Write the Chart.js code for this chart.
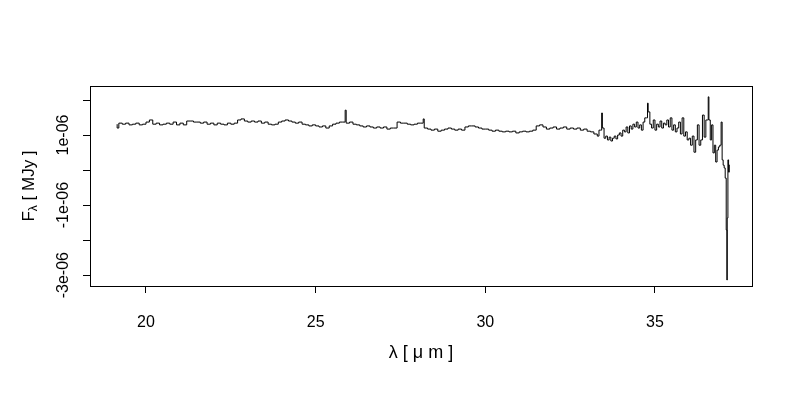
<!DOCTYPE html>
<html>
<head>
<meta charset="utf-8">
<script src="https://cdn.jsdelivr.net/npm/chart.js@4"></script>
<style>
  body { margin: 0; background: #fff; }
  #wrap { width: 800px; height: 400px; }
</style>
</head>
<body>
<div id="wrap"><canvas id="specChart" width="800" height="400"></canvas></div>
<script>
// wavelength in micron
const wavelength = [
  19.15, 19.2, 19.3, 19.4, 19.5, 19.6, 19.7, 19.8, 19.9, 20.0,
  20.1, 20.2, 20.3, 20.4, 20.5, 20.6, 20.7, 20.8, 20.9, 21.0,
  21.1, 21.2, 21.3, 21.4, 21.5, 21.6, 21.7, 21.8, 21.9, 22.0,
  22.1, 22.2, 22.3, 22.4, 22.5, 22.6, 22.7, 22.8, 22.9, 23.0,
  23.1, 23.2, 23.3, 23.4, 23.5, 23.6, 23.7, 23.8, 23.9, 24.0,
  24.1, 24.2, 24.3, 24.4, 24.5, 24.6, 24.7, 24.8, 24.9, 25.0,
  25.1, 25.2, 25.3, 25.4, 25.5, 25.6, 25.7, 25.8, 25.87, 25.9, 26.0,
  26.1, 26.2, 26.3, 26.4, 26.5, 26.6, 26.7, 26.8, 26.9, 27.0,
  27.1, 27.2, 27.3, 27.4, 27.5, 27.6, 27.7, 27.8, 27.9, 28.0,
  28.1, 28.17, 28.2, 28.3, 28.4, 28.5, 28.6, 28.7, 28.8, 28.9, 29.0,
  29.1, 29.2, 29.3, 29.4, 29.5, 29.6, 29.7, 29.8, 29.9, 30.0,
  30.1, 30.2, 30.3, 30.4, 30.5, 30.6, 30.7, 30.8, 30.9, 31.0,
  31.1, 31.2, 31.3, 31.4, 31.5, 31.6, 31.7, 31.8, 31.9, 32.0,
  32.1, 32.2, 32.3, 32.4, 32.5, 32.6, 32.7, 32.8, 32.9, 33.0,
  33.1, 33.2, 33.3, 33.35, 33.4, 33.43, 33.45, 33.5, 33.55, 33.6, 33.65,
  33.7, 33.75, 33.8, 33.85, 33.9, 33.95, 34.0, 34.05, 34.1, 34.15,
  34.2, 34.25, 34.3, 34.35, 34.4, 34.45, 34.5, 34.55, 34.6, 34.65,
  34.7, 34.75, 34.78, 34.8, 34.85, 34.9, 34.95, 35.0, 35.05, 35.1, 35.15,
  35.2, 35.25, 35.3, 35.35, 35.4, 35.45, 35.5, 35.55, 35.6, 35.65,
  35.7, 35.75, 35.8, 35.85, 35.9, 35.95, 36.0, 36.05, 36.1, 36.15,
  36.2, 36.25, 36.3, 36.35, 36.4, 36.45, 36.5, 36.55, 36.57, 36.59, 36.63,
  36.67, 36.71, 36.75, 36.79, 36.83, 36.87, 36.91, 36.95, 36.98, 37.01,
  37.04, 37.07, 37.1, 37.12, 37.13, 37.15, 37.17, 37.19, 37.21
];

// flux in units of 1e-06 MJy
const fluxMicro = [
  1.31, 1.20, 1.34, 1.31, 1.34, 1.29, 1.31, 1.34, 1.29, 1.31,
  1.37, 1.43, 1.31, 1.34, 1.29, 1.31, 1.34, 1.31, 1.37, 1.29,
  1.34, 1.29, 1.40, 1.40, 1.37, 1.37, 1.34, 1.37, 1.31, 1.34,
  1.29, 1.34, 1.31, 1.29, 1.34, 1.31, 1.34, 1.43, 1.46, 1.40,
  1.37, 1.40, 1.37, 1.40, 1.34, 1.37, 1.31, 1.29, 1.31, 1.37,
  1.40, 1.43, 1.40, 1.37, 1.34, 1.37, 1.31, 1.29, 1.26, 1.29,
  1.26, 1.23, 1.26, 1.20, 1.26, 1.31, 1.34, 1.37, 1.37, 1.71, 1.34,
  1.37, 1.31, 1.29, 1.26, 1.23, 1.26, 1.23, 1.20, 1.23, 1.20,
  1.23, 1.17, 1.20, 1.20, 1.37, 1.34, 1.34, 1.31, 1.29, 1.31,
  1.34, 1.34, 1.46, 1.20, 1.17, 1.14, 1.17, 1.11, 1.14, 1.17, 1.20,
  1.17, 1.14, 1.17, 1.14, 1.23, 1.26, 1.26, 1.23, 1.20, 1.17,
  1.17, 1.14, 1.11, 1.14, 1.11, 1.09, 1.11, 1.09, 1.11, 1.06,
  1.09, 1.11, 1.09, 1.11, 1.14, 1.26, 1.29, 1.23, 1.17, 1.20,
  1.23, 1.17, 1.20, 1.23, 1.17, 1.20, 1.17, 1.20, 1.14, 1.17,
  1.11, 1.09, 1.03, 0.97, 1.14, 1.14, 1.63, 1.20, 0.91, 0.97, 0.86,
  0.94, 0.83, 0.91, 0.97, 0.89, 1.00, 1.06, 0.97, 1.14, 1.09,
  1.23, 1.06, 1.26, 1.17, 1.31, 1.23, 1.37, 1.20, 1.29, 1.14,
  1.37, 1.49, 1.49, 1.91, 1.66, 1.31, 1.20, 1.43, 1.14, 1.31, 1.23,
  1.40, 1.20, 1.34, 1.29, 1.43, 1.23, 1.49, 1.14, 1.29, 1.09,
  1.20, 1.37, 1.03, 1.49, 0.97, 1.09, 0.86, 0.91, 0.71, 0.97,
  0.51, 0.86, 1.29, 0.71, 0.86, 1.57, 0.94, 1.43, 1.43, 2.09, 1.43,
  0.86, 1.29, 0.49, 0.71, 0.23, 0.57, 0.66, 0.71, 1.37, 0.29,
  0.14, 0.06, -0.23, -1.71, -3.14, -1.37, 0.29, -0.06, 0.14
];

const xTicks = [20, 25, 30, 35];
const yTicks = [-3e-6, -2e-6, -1e-6, 0, 1e-6, 2e-6];
const yTickLabels = ['-3e-06', '', '-1e-06', '', '1e-06', ''];

const FONT = '"Liberation Sans", Arial, sans-serif';

const points = wavelength.map((w, i) => ({ x: w, y: fluxMicro[i] * 1e-6 }));

// R-style box, rotated y labels and axis titles
const rDecor = {
    id: 'rDecor',
    afterDraw(chart) {
        const ctx = chart.ctx;
        const a = chart.chartArea;
        const ys = chart.scales.y;
        ctx.save();
        ctx.strokeStyle = '#000';
        ctx.lineWidth = 1;
        ctx.strokeRect(Math.round(a.left) + 0.5, Math.round(a.top) + 0.5,
            Math.round(a.right - a.left), Math.round(a.bottom - a.top));

        ctx.fillStyle = '#000';
        ctx.font = '16px ' + FONT;
        ctx.textAlign = 'center';
        ctx.textBaseline = 'middle';
        yTicks.forEach((v, i) => {
            if (!yTickLabels[i]) return;
            ctx.save();
            ctx.translate(64, ys.getPixelForValue(v));
            ctx.rotate(-Math.PI / 2);
            ctx.fillText(yTickLabels[i], 0, 0);
            ctx.restore();
        });

        // x title
        ctx.font = '18px ' + FONT;
        ctx.fillText('λ [ μ m ]', (a.left + a.right) / 2, 353);

        // y title: F_λ [ MJy ]
        const cy = (a.top + a.bottom) / 2;
        ctx.save();
        ctx.translate(29, cy);
        ctx.rotate(-Math.PI / 2);
        ctx.textAlign = 'left';
        const f1 = 'F', f3 = ' [ MJy ]';
        ctx.font = '17px ' + FONT;
        const w1 = ctx.measureText(f1).width;
        const w3 = ctx.measureText(f3).width;
        ctx.font = '12px ' + FONT;
        const w2 = ctx.measureText('λ').width;
        const start = -(w1 + w2 + w3) / 2;
        ctx.font = '17px ' + FONT;
        ctx.fillText(f1, start, 0);
        ctx.font = '12px ' + FONT;
        ctx.fillText('λ', start + w1, 5);
        ctx.font = '17px ' + FONT;
        ctx.fillText(f3, start + w1 + w2, 0);
        ctx.restore();
        ctx.restore();
    }
};

new Chart(document.getElementById('specChart'), {
    type: 'line',
    data: {
        datasets: [{
            data: points,
            borderColor: '#000',
            borderWidth: 1,
            pointRadius: 0,
            stepped: 'after',
            fill: false
        }]
    },
    options: {
        responsive: false,
        animation: false,
        events: [],
        layout: { padding: { top: 86, right: 48, left: 0, bottom: 0 } },
        plugins: { legend: { display: false }, tooltip: { enabled: false } },
        scales: {
            x: {
                type: 'linear',
                min: 18.35,
                max: 37.86,
                afterBuildTicks: s => { s.ticks = xTicks.map(v => ({ value: v })); },
                afterFit: s => { s.height = 114; },
                grid: { drawOnChartArea: false, drawTicks: true, tickLength: 7, color: '#000' },
                border: { display: false },
                ticks: {
                    autoSkip: false,
                    maxRotation: 0,
                    padding: 20,
                    color: '#000',
                    font: { family: FONT, size: 16 }
                }
            },
            y: {
                type: 'linear',
                min: -3.31e-6,
                max: 2.4e-6,
                afterBuildTicks: s => { s.ticks = yTicks.map(v => ({ value: v })); },
                afterFit: s => { s.width = 90; },
                grid: { drawOnChartArea: false, drawTicks: true, tickLength: 7, color: '#000' },
                border: { display: false },
                ticks: {
                    autoSkip: false,
                    callback: () => '',
                    color: '#000',
                    font: { family: FONT, size: 16 }
                }
            }
        }
    },
    plugins: [rDecor]
});
</script>
</body>
</html>
